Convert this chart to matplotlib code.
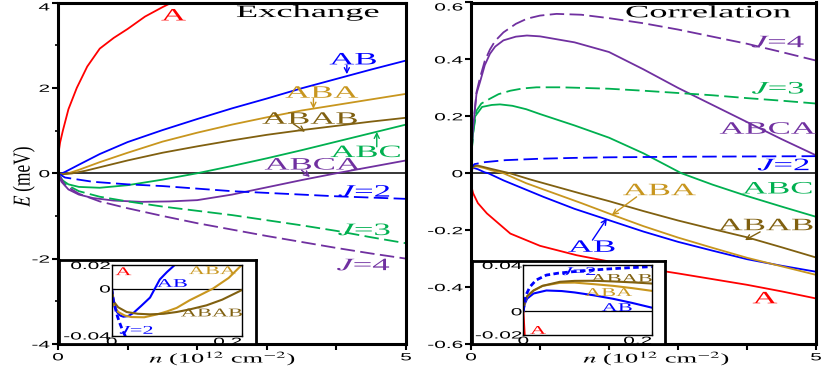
import matplotlib
matplotlib.use('Agg')
import matplotlib.pyplot as plt
from matplotlib.patheffects import AbstractPathEffect
from matplotlib.transforms import Affine2D
from matplotlib.ticker import FixedLocator

plt.rcParams['font.family'] = ['Liberation Serif', 'DejaVu Serif']
plt.rcParams['mathtext.fontset'] = 'stix'
plt.rcParams['axes.unicode_minus'] = False

# ---------------- Exchange (left panel) ----------------
ex_A_n = [0, 0.002, 0.01, 0.03, 0.07, 0.15, 0.27, 0.42, 0.6, 0.8, 1.0, 1.25, 1.5, 1.7]
ex_A_E = [0, 0.25, 0.5, 0.72, 1.0, 1.5, 2.0, 2.5, 2.92, 3.17, 3.38, 3.67, 3.89, 4.05]
ex_AB_n = [0, 0.02, 0.06, 0.1, 0.3, 0.6, 1.0, 1.5, 2.0, 2.5, 3.0, 3.5, 4.0, 4.5, 5.0]
ex_AB_E = [0, -0.024, 0, 0.03, 0.2, 0.45, 0.73, 1.01, 1.27, 1.52, 1.75, 1.99, 2.21, 2.43, 2.64]
ex_ABA_n = [0, 0.05, 0.15, 0.3, 0.6, 1.0, 1.5, 2.0, 2.5, 3.0, 3.5, 4.0, 4.5, 5.0]
ex_ABA_E = [0, -0.028, 0.0, 0.08, 0.26, 0.48, 0.74, 0.95, 1.14, 1.31, 1.47, 1.6, 1.73, 1.86]
ex_ABAB_n = [0, 0.05, 0.2, 0.4, 0.7, 1.0, 1.5, 2.0, 2.5, 3.0, 3.5, 4.0, 4.5, 5.0]
ex_ABAB_E = [0, -0.026, -0.005, 0.06, 0.18, 0.3, 0.48, 0.63, 0.77, 0.9, 1.01, 1.11, 1.21, 1.30]
ex_ABC_n = [0, 0.05, 0.15, 0.3, 0.6, 1.0, 1.5, 2.0, 2.5, 3.0, 3.5, 4.0, 4.5, 5.0]
ex_ABC_E = [0, -0.15, -0.26, -0.32, -0.34, -0.28, -0.15, 0.0, 0.17, 0.35, 0.54, 0.74, 0.94, 1.14]
ex_ABCA_n = [0, 0.05, 0.15, 0.3, 0.5, 0.8, 1.2, 1.6, 2.0, 2.5, 3.0, 3.5, 4.0, 4.5, 5.0]
ex_ABCA_E = [0, -0.2, -0.38, -0.5, -0.58, -0.64, -0.67, -0.66, -0.63, -0.5, -0.33, -0.16, 0.0, 0.15, 0.30]
ex_J2_n = [0, 0.1, 0.5, 1.0, 1.5, 2.0, 2.5, 3.0, 3.5, 4.0, 4.5, 5.0]
ex_J2_E = [0, -0.1, -0.2, -0.26, -0.3, -0.36, -0.42, -0.46, -0.5, -0.54, -0.57, -0.6]
ex_J3_n = [0, 0.1, 0.3, 0.6, 1.0, 1.5, 2.0, 2.5, 3.0, 3.5, 4.0, 4.5, 5.0]
ex_J3_E = [0, -0.25, -0.42, -0.55, -0.66, -0.78, -0.88, -0.98, -1.1, -1.22, -1.35, -1.5, -1.64]
ex_J4_n = [0, 0.1, 0.3, 0.6, 1.0, 1.5, 2.0, 2.5, 3.0, 3.5, 4.0, 4.5, 5.0]
ex_J4_E = [0, -0.28, -0.48, -0.66, -0.82, -1.0, -1.17, -1.32, -1.47, -1.61, -1.75, -1.88, -2.0]

# Exchange inset (small n)
exi_AB_n = [0, 0.004, 0.008, 0.013, 0.018, 0.025, 0.033, 0.045, 0.059, 0.074, 0.085, 0.097, 0.11]
exi_AB_E = [0, -0.013, -0.02, -0.023, -0.024, -0.0235, -0.021, -0.015, -0.0077, 0.0077, 0.014, 0.02, 0.027]
exi_ABA_n = [0, 0.003, 0.01, 0.02, 0.03, 0.05, 0.07, 0.085, 0.1, 0.12, 0.14, 0.156, 0.18, 0.2]
exi_ABA_E = [0, -0.014, -0.02, -0.023, -0.0243, -0.0245, -0.022, -0.0195, -0.0165, -0.01, -0.0045, 0.0, 0.009, 0.02]
exi_ABAB_n = [0, 0.003, 0.01, 0.023, 0.04, 0.059, 0.08, 0.1, 0.12, 0.146, 0.17, 0.2]
exi_ABAB_E = [0, -0.011, -0.016, -0.02, -0.0215, -0.022, -0.0215, -0.02, -0.0178, -0.0143, -0.0095, -0.0014]
exi_J2_n = [0, 0.002, 0.005, 0.009, 0.0128, 0.017, 0.0205, 0.025]
exi_J2_E = [0, -0.009, -0.0157, -0.024, -0.03, -0.036, -0.04, -0.046]

# ---------------- Correlation (right panel) ----------------
co_A_n = [0, 0.003, 0.01, 0.03, 0.1, 0.23, 0.57, 1.0, 1.53, 2.0, 2.5, 3.0, 3.5, 4.0, 4.5, 5.0]
co_A_E = [0, -0.03, -0.05, -0.07, -0.105, -0.141, -0.212, -0.255, -0.288, -0.31, -0.333, -0.352, -0.372, -0.392, -0.415, -0.44]
co_AB_n = [0, 0.02, 0.05, 0.1, 0.2, 0.25, 0.47, 1.05, 1.5, 2.0, 2.5, 3.0, 3.5, 4.0, 4.5, 5.0]
co_AB_E = [0, 0.017, 0.018, 0.014, 0.003, 0.0, -0.025, -0.083, -0.125, -0.165, -0.205, -0.241, -0.272, -0.302, -0.325, -0.346]
co_ABA_n = [0, 0.02, 0.06, 0.1, 0.2, 0.3, 0.47, 0.8, 1.2, 1.6, 2.06, 2.5, 3.0, 3.5, 4.0, 4.5, 5.0]
co_ABA_E = [0, 0.018, 0.0246, 0.0235, 0.0177, 0.01, 0.0, -0.035, -0.07, -0.105, -0.147, -0.186, -0.226, -0.262, -0.297, -0.327, -0.357]
co_ABAB_n = [0, 0.02, 0.06, 0.1, 0.3, 0.565, 0.86, 1.2, 1.6, 2.0, 2.5, 3.0, 3.5, 4.0, 4.5, 5.0]
co_ABAB_E = [0, 0.02, 0.026, 0.027, 0.015, 0.0, -0.022, -0.045, -0.072, -0.098, -0.133, -0.166, -0.196, -0.225, -0.26, -0.296]
co_ABC_n = [0, 0.005, 0.03, 0.06, 0.16, 0.3, 0.42, 0.6, 0.8, 1.0, 1.5, 2.0, 2.5, 3.05, 3.5, 4.0, 4.5, 5.0]
co_ABC_E = [0, 0.06, 0.14, 0.2, 0.233, 0.24, 0.242, 0.237, 0.225, 0.208, 0.168, 0.125, 0.07, 0.0, -0.04, -0.08, -0.117, -0.153]
co_ABCA_n = [0, 0.005, 0.03, 0.08, 0.13, 0.2, 0.275, 0.35, 0.47, 0.65, 0.81, 1.0, 1.5, 2.0, 2.5, 3.0, 3.5, 4.0, 4.5, 5.0]
co_ABCA_E = [0, 0.06, 0.16, 0.28, 0.32, 0.38, 0.42, 0.445, 0.467, 0.48, 0.484, 0.481, 0.46, 0.426, 0.365, 0.30, 0.24, 0.18, 0.12, 0.063]
co_J2_n = [0, 0.01, 0.05, 0.2, 0.5, 1.0, 1.5, 2.0, 3.0, 4.0, 5.0]
co_J2_E = [0, 0.021, 0.032, 0.039, 0.046, 0.051, 0.054, 0.056, 0.058, 0.059, 0.06]
co_J3_n = [0, 0.005, 0.03, 0.08, 0.15, 0.275, 0.4, 0.57, 0.75, 0.95, 1.3, 1.6, 2.0, 2.5, 3.0, 3.5, 4.0, 4.5, 5.0]
co_J3_E = [0, 0.06, 0.14, 0.22, 0.245, 0.262, 0.278, 0.29, 0.298, 0.302, 0.302, 0.30, 0.297, 0.29, 0.282, 0.274, 0.264, 0.255, 0.245]
co_J4_n = [0, 0.005, 0.03, 0.08, 0.13, 0.2, 0.275, 0.35, 0.47, 0.65, 0.81, 1.0, 1.24, 1.6, 2.0, 2.5, 3.0, 3.5, 4.0, 4.5, 5.0]
co_J4_E = [0, 0.06, 0.16, 0.285, 0.335, 0.395, 0.435, 0.465, 0.495, 0.525, 0.543, 0.554, 0.56, 0.557, 0.545, 0.527, 0.505, 0.48, 0.455, 0.426, 0.396]

# Correlation inset (small n)
coi_J2_n = [0, 0.002, 0.005, 0.0104, 0.02, 0.036, 0.055, 0.073, 0.1, 0.13, 0.16, 0.2]
coi_J2_E = [0, 0.009, 0.015, 0.0212, 0.027, 0.0313, 0.033, 0.034, 0.0353, 0.0365, 0.0375, 0.0386]
coi_ABAB_n = [0, 0.002, 0.006, 0.016, 0.03, 0.057, 0.08, 0.109, 0.14, 0.17, 0.2]
coi_ABAB_E = [0, 0.008, 0.013, 0.018, 0.022, 0.0255, 0.0263, 0.0264, 0.0258, 0.025, 0.024]
coi_ABA_n = [0, 0.002, 0.006, 0.016, 0.03, 0.057, 0.08, 0.109, 0.14, 0.17, 0.2]
coi_ABA_E = [0, 0.008, 0.013, 0.018, 0.022, 0.0246, 0.0248, 0.0235, 0.022, 0.020, 0.0177]
coi_AB_n = [0, 0.002, 0.006, 0.016, 0.036, 0.06, 0.08, 0.109, 0.14, 0.17, 0.2]
coi_AB_E = [0, 0.006, 0.011, 0.0154, 0.018, 0.0175, 0.0163, 0.0139, 0.0108, 0.0072, 0.0032]

RED, BLUE, GOLD, BROWN, GREEN, PURPLE = '#ff0000', '#0000ff', '#c8961e', '#806010', '#00b050', '#7030a0'


class HStretch(AbstractPathEffect):
    """Draw text glyphs stretched (the reference is horizontally stretched)."""
    def __init__(self, sx=2.0, anchor='center', sy=1.0):
        super().__init__()
        self.sx = sx
        self.sy = sy
        self.anchor = anchor

    def draw_path(self, renderer, gc, tpath, affine, rgbFace=None):
        ext = tpath.get_extents()
        if self.anchor == 'right':
            cx = ext.x1
        elif self.anchor == 'left':
            cx = ext.x0
        else:
            cx = 0.5 * (ext.x0 + ext.x1)
        cy = 0.5 * (ext.y0 + ext.y1)
        t = Affine2D().translate(-cx, -cy).scale(self.sx, self.sy).translate(cx, cy)
        renderer.draw_path(gc, tpath, t + affine, rgbFace)


W, H = 829, 367
fig = plt.figure(figsize=(W / 100, H / 100), dpi=100)


def frac(x0, y0, x1, y1):
    return [x0 / W, 1 - y1 / H, (x1 - x0) / W, (y1 - y0) / H]


def style_ticklabels(ax, size=7.5, sx=2.0):
    for lab in ax.get_yticklabels():
        lab.set_fontfamily('Liberation Sans')
        lab.set_fontsize(size)
        lab.set_path_effects([HStretch(sx, 'right')])
    for lab in ax.get_xticklabels():
        lab.set_fontfamily('Liberation Sans')
        lab.set_fontsize(size)
        lab.set_path_effects([HStretch(sx, 'center')])


def label(ax, x, y, s, c, size=12.5, sx=2.0):
    ax.text(x, y, s, color=c, fontsize=size, ha='center', va='baseline',
            path_effects=[HStretch(sx, 'center')], zorder=5)


def arrow(ax, tail, tip, c):
    ax.annotate('', xy=tip, xytext=tail,
                arrowprops=dict(arrowstyle='->', color=c, lw=1.0, mutation_scale=9,
                                shrinkA=0, shrinkB=0), zorder=5)


def main_axes(rect, ylim, yticks, yticklabels, minor=None):
    ax = fig.add_axes(rect)
    ax.set_xlim(0, 5)
    ax.set_ylim(*ylim)
    ax.xaxis.set_major_locator(FixedLocator([0, 1, 2, 3, 4, 5]))
    ax.set_xticklabels(['0', '', '', '', '', '5'])
    ax.yaxis.set_major_locator(FixedLocator(yticks))
    ax.set_yticklabels(yticklabels)
    if minor is not None:
        ax.yaxis.set_minor_locator(FixedLocator(minor))
    ax.tick_params(direction='out', length=4, width=1.5, pad=2)
    ax.tick_params(which='minor', direction='out', length=2.5, width=1.2)
    for sp in ax.spines.values():
        sp.set_linewidth(2.2)
    ax.axhline(0, color='k', lw=1.1, zorder=1)
    style_ticklabels(ax)
    ax.get_yticklabels()[-1].set_va('top')
    return ax


def inset(box_rect, in_rect, ylim, yticks, yticklabels):
    box = fig.add_axes(box_rect)
    box.set_xticks([])
    box.set_yticks([])
    box.set_facecolor('white')
    for sp in box.spines.values():
        sp.set_linewidth(2.0)
    ai = fig.add_axes(in_rect)
    ai.set_xlim(0, 0.2)
    ai.set_ylim(*ylim)
    ai.xaxis.set_major_locator(FixedLocator([0, 0.2]))
    ai.set_xticklabels(['0', '0.2'])
    ai.yaxis.set_major_locator(FixedLocator(yticks))
    ai.set_yticklabels(yticklabels)
    ai.tick_params(direction='in', length=2, width=0.8, pad=1)
    for sp in ai.spines.values():
        sp.set_linewidth(1.0)
    ai.axhline(0, color='k', lw=0.9, zorder=1)
    style_ticklabels(ai, size=7.5, sx=2.0)
    xl = ai.get_xticklabels()
    xl[1].set_ha('right')
    xl[1].set_path_effects([HStretch(2.0, 'right')])
    return ai


LW = 1.3
DASH = (8, 3)

# ---------------- Left: Exchange ----------------
axL = main_axes(frac(58, 2.5, 406, 344), (-4, 4), [-4, -2, 0, 2, 4],
                ['-4', '-2', '0', '2', '4'], minor=[-3, -1, 1, 3])
axL.plot(ex_A_n, ex_A_E, color=RED, lw=LW)
axL.plot(ex_AB_n, ex_AB_E, color=BLUE, lw=LW)
axL.plot(ex_ABA_n, ex_ABA_E, color=GOLD, lw=LW)
axL.plot(ex_ABAB_n, ex_ABAB_E, color=BROWN, lw=LW)
axL.plot(ex_ABC_n, ex_ABC_E, color=GREEN, lw=LW)
axL.plot(ex_ABCA_n, ex_ABCA_E, color=PURPLE, lw=LW)
axL.plot(ex_J2_n, ex_J2_E, color=BLUE, lw=LW, dashes=DASH)
axL.plot(ex_J3_n, ex_J3_E, color=GREEN, lw=LW, dashes=DASH)
axL.plot(ex_J4_n, ex_J4_E, color=PURPLE, lw=LW, dashes=DASH)

label(axL, 3.59, 3.66, 'Exchange', 'black', size=12.5, sx=2.1)
label(axL, 1.66, 3.58, 'A', RED)
label(axL, 4.24, 2.55, 'AB', BLUE)
arrow(axL, (4.15, 2.53), (4.15, 2.32), BLUE)
label(axL, 3.79, 1.77, 'ABA', GOLD)
arrow(axL, (3.67, 1.75), (3.67, 1.51), GOLD)
label(axL, 3.62, 1.16, 'ABAB', BROWN)
arrow(axL, (3.38, 1.16), (3.55, 0.97), BROWN)
label(axL, 4.42, 0.38, 'ABC', GREEN)
arrow(axL, (4.58, 0.62), (4.58, 0.97), GREEN)
label(axL, 3.66, 0.087, 'ABCA', PURPLE)
arrow(axL, (3.5, 0.07), (3.62, -0.087), PURPLE)
label(axL, 4.41, -0.55, '$J$=2', BLUE)
label(axL, 4.41, -1.45, '$J$=3', GREEN)
label(axL, 4.40, -2.27, '$J$=4', PURPLE)

aiL = inset(frac(59, 260, 256, 344), frac(111.7, 265, 241.7, 335.5), (-0.04, 0.02),
            [-0.04, 0, 0.02], ['-0.04', '0', '0.02'])
LWI = 1.5
aiL.plot(ex_A_n, ex_A_E, color=RED, lw=LWI)
aiL.plot(exi_AB_n, exi_AB_E, color=BLUE, lw=LWI)
aiL.plot(exi_ABA_n, exi_ABA_E, color=GOLD, lw=LWI)
aiL.plot(exi_ABAB_n, exi_ABAB_E, color=BROWN, lw=LWI)
aiL.plot(exi_J2_n, exi_J2_E, color=BLUE, lw=2.0, dashes=(2, 1.2))
label(aiL, 0.018, 0.0114, 'A', RED, size=8.5, sx=1.9)
label(aiL, 0.093, 0.0014, 'AB', BLUE, size=8.5, sx=1.9)
label(aiL, 0.155, 0.0123, 'ABA', GOLD, size=8.5, sx=1.9)
label(aiL, 0.154, -0.0237, 'ABAB', BROWN, size=8.5, sx=1.9)
label(aiL, 0.039, -0.0386, '$J$=2', BLUE, size=8.5, sx=1.9)

# ---------------- Right: Correlation ----------------
axR = main_axes(frac(471, 2.5, 816, 344), (-0.6, 0.6), [-0.6, -0.4, -0.2, 0, 0.2, 0.4, 0.6],
                ['-0.6', '-0.4', '-0.2', '0', '0.2', '0.4', '0.6'])
axR.plot(co_A_n, co_A_E, color=RED, lw=LW)
axR.plot(co_AB_n, co_AB_E, color=BLUE, lw=LW)
axR.plot(co_ABA_n, co_ABA_E, color=GOLD, lw=LW)
axR.plot(co_ABAB_n, co_ABAB_E, color=BROWN, lw=LW)
axR.plot(co_ABC_n, co_ABC_E, color=GREEN, lw=LW)
axR.plot(co_ABCA_n, co_ABCA_E, color=PURPLE, lw=LW)
axR.plot(co_J2_n, co_J2_E, color=BLUE, lw=LW, dashes=DASH)
axR.plot(co_J3_n, co_J3_E, color=GREEN, lw=LW, dashes=DASH)
axR.plot(co_J4_n, co_J4_E, color=PURPLE, lw=LW, dashes=DASH)

label(axR, 3.44, 0.548, 'Correlation', 'black', size=12.5, sx=2.1)
label(axR, 4.46, 0.443, '$J$=4', PURPLE)
label(axR, 4.46, 0.28, '$J$=3', GREEN)
label(axR, 4.30, 0.139, 'ABCA', PURPLE)
label(axR, 4.54, 0.0105, '$J$=2', BLUE)
label(axR, 4.44, -0.071, 'ABC', GREEN)
label(axR, 2.73, -0.077, 'ABA', GOLD)
arrow(axR, (2.40, -0.083), (2.04, -0.147), GOLD)
label(axR, 1.75, -0.276, 'AB', BLUE)
arrow(axR, (1.76, -0.235), (1.97, -0.159), BLUE)
label(axR, 4.27, -0.2, 'ABAB', BROWN)
arrow(axR, (4.19, -0.206), (3.97, -0.235), BROWN)
label(axR, 4.26, -0.457, 'A', RED)

aiR = inset(frac(472, 260.7, 665, 344), frac(523.3, 265, 651.7, 334.5), (-0.02, 0.04),
            [-0.02, 0, 0.04], ['-0.02', '0', '0.04'])
aiR.plot(co_A_n, co_A_E, color=RED, lw=LWI)
aiR.plot(coi_AB_n, coi_AB_E, color=BLUE, lw=LWI)
aiR.plot(coi_ABA_n, coi_ABA_E, color=GOLD, lw=LWI)
aiR.plot(coi_ABAB_n, coi_ABAB_E, color=BROWN, lw=LWI)
aiR.plot(coi_J2_n, coi_J2_E, color=BLUE, lw=2.0, dashes=(2, 1.2))
label(aiR, 0.088, 0.0313, '$J$=2', BLUE, size=8.5, sx=1.9)
label(aiR, 0.153, 0.0255, 'ABAB', BROWN, size=8.5, sx=1.9)
label(aiR, 0.133, 0.0133, 'ABA', GOLD, size=8.5, sx=1.9)
label(aiR, 0.146, 0.0003, 'AB', BLUE, size=8.5, sx=1.9)
label(aiR, 0.023, -0.0194, 'A', RED, size=8.5, sx=1.9)

# axis labels
fig.text(223 / W, 1 - 358.5 / H, '$n$ (10$^{12}$ cm$^{-2}$)', fontsize=9.5, ha='center', va='center',
         path_effects=[HStretch(2.0, 'center')])
fig.text(657 / W, 1 - 358.5 / H, '$n$ (10$^{12}$ cm$^{-2}$)', fontsize=9.5, ha='center', va='center',
         path_effects=[HStretch(2.0, 'center')])
fig.text(24 / W, 1 - 176 / H, '$E$ (meV)', fontsize=12.5, ha='center', va='center', rotation=90,
         path_effects=[HStretch(1.0, 'center', sy=1.4)])

fig.savefig('out.png', dpi=100)
